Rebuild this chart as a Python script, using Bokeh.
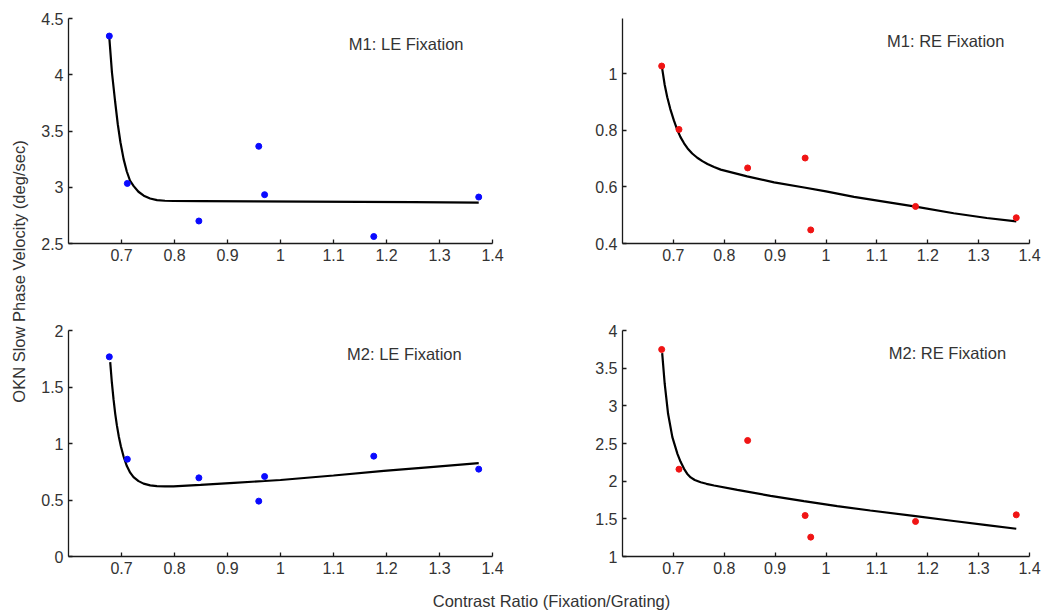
import math
from bokeh.plotting import figure
from bokeh.layouts import row, column
from bokeh.models import Range1d, FixedTicker, CustomJSTickFormatter
from bokeh.core.properties import value
from bokeh.embed import file_html
from bokeh.resources import INLINE

# ---------------- data ----------------
contrast_ratio = [0.677, 0.711, 0.846, 0.959, 0.970, 1.176, 1.374]

m1_le = [4.344, 3.034, 2.700, 3.364, 2.934, 2.562, 2.913]
m1_re = [1.027, 0.803, 0.667, 0.702, 0.448, 0.531, 0.491]
m2_le = [1.767, 0.861, 0.696, 0.490, 0.708, 0.888, 0.773]
m2_re = [3.748, 2.159, 2.540, 1.544, 1.257, 1.465, 1.553]

m1_le_fit_x = [0.677, 0.682, 0.688, 0.693, 0.698, 0.704, 0.710, 0.716, 0.723, 0.732, 0.742,
               0.754, 0.767, 0.782, 0.798, 0.850, 0.950, 1.050, 1.150, 1.250, 1.374]
m1_le_fit_y = [4.33, 4.02, 3.76, 3.56, 3.40, 3.25, 3.14, 3.06, 3.01, 2.96, 2.925,
               2.900, 2.886, 2.880, 2.878, 2.877, 2.875, 2.873, 2.870, 2.867, 2.863]

m1_re_fit_x = [0.678, 0.683, 0.688, 0.694, 0.701, 0.708, 0.714, 0.721, 0.728, 0.737, 0.747, 0.757,
               0.767, 0.780, 0.793, 0.845, 0.898, 0.957, 1.000, 1.055, 1.120, 1.176, 1.251, 1.316,
               1.374]
m1_re_fit_y = [1.018, 0.960, 0.917, 0.875, 0.835, 0.800, 0.776, 0.754, 0.736, 0.718, 0.703, 0.691,
               0.681, 0.670, 0.661, 0.637, 0.616, 0.598, 0.584, 0.565, 0.546, 0.530, 0.507, 0.490,
               0.478]

m2_le_fit_x = [0.6787, 0.6818, 0.6850, 0.6881, 0.6913, 0.6950, 0.6988, 0.7039, 0.7101, 0.7164,
               0.7227, 0.7322, 0.7416, 0.7542, 0.7668, 0.782, 0.798, 0.849, 0.912, 0.970, 1.000,
               1.100, 1.195, 1.289, 1.374]
m2_le_fit_y = [1.72, 1.54, 1.39, 1.265, 1.16, 1.06, 0.975, 0.885, 0.800, 0.742,
               0.703, 0.667, 0.645, 0.630, 0.623, 0.620, 0.621, 0.634, 0.652, 0.668, 0.677,
               0.717, 0.757, 0.793, 0.826]

m2_re_fit_x = [0.678, 0.683, 0.6896, 0.698, 0.708, 0.714, 0.721, 0.727, 0.734, 0.742, 0.7537,
               0.765, 0.780, 0.8257, 0.891, 0.9565, 1.022, 1.087, 1.176, 1.251, 1.316, 1.374]
m2_re_fit_y = [3.70, 3.29, 2.894, 2.584, 2.363, 2.26, 2.164, 2.10, 2.05, 2.015, 1.985,
               1.965, 1.943, 1.885, 1.805, 1.735, 1.668, 1.611, 1.535, 1.471, 1.416, 1.368]

x_ticks = [0.7, 0.8, 0.9, 1.0, 1.1, 1.2, 1.3, 1.4]
m1_le_yticks = [2.5, 3.0, 3.5, 4.0, 4.5]
m1_re_yticks = [0.4, 0.6, 0.8, 1.0]
m2_le_yticks = [0.0, 0.5, 1.0, 1.5, 2.0]
m2_re_yticks = [1.0, 1.5, 2.0, 2.5, 3.0, 3.5, 4.0]

panel_titles = ["M1: LE Fixation", "M1: RE Fixation", "M2: LE Fixation", "M2: RE Fixation"]
y_title = "OKN Slow Phase Velocity (deg/sec)"
x_title = "Contrast Ratio (Fixation/Grating)"

FONT = "Liberation Sans"
TXT = "#333333"
AX = "#1a1a1a"

fmt_code = "return String(Math.round(tick*100)/100);"


def panel(width, height, bl, br, bt, bb, yr, yticks, ys, fx, fy, color, title, tx, ty):
    p = figure(width=width, height=height, x_range=Range1d(0.6, 1.4), y_range=Range1d(*yr),
               output_backend="svg", toolbar_location=None,
               min_border_left=bl, min_border_right=br, min_border_top=bt, min_border_bottom=bb)
    p.outline_line_color = None
    p.grid.visible = False
    p.background_fill_color = "white"
    p.border_fill_color = "white"
    p.xaxis.ticker = FixedTicker(ticks=x_ticks)
    p.yaxis.ticker = FixedTicker(ticks=yticks)
    for ax in (p.xaxis[0], p.yaxis[0]):
        ax.formatter = CustomJSTickFormatter(code=fmt_code)
        ax.axis_line_color = AX
        ax.axis_line_width = 1.3
        ax.major_tick_line_color = AX
        ax.major_tick_line_width = 1.3
        ax.major_tick_in = 4
        ax.major_tick_out = 0
        ax.minor_tick_line_color = None
        ax.major_label_text_font = FONT
        ax.major_label_text_font_size = "16px"
        ax.major_label_text_color = TXT
        ax.major_label_standoff = 5
    p.line(fx, fy, line_color="black", line_width=2.2)
    p.scatter(contrast_ratio, ys, size=6, fill_color=color, line_color=color)
    p.text(x=[tx], y=[ty], text=[title], text_align="left", text_baseline="middle",
           text_font=value(FONT), text_font_size=value("16.5px"), text_color=TXT)
    return p


p1 = panel(530, 300, 38, 68, 17, 57, (2.5, 4.5), m1_le_yticks, m1_le, m1_le_fit_x, m1_le_fit_y,
           "#0a0aff", panel_titles[0], 1.129, 4.27)
p2 = panel(495, 300, 62, 26, 18, 57, (0.4, 1.195), m1_re_yticks, m1_re, m1_re_fit_x, m1_re_fit_y,
           "#f01414", panel_titles[1], 1.120, 1.114)
p3 = panel(530, 282, 38, 68, 30, 26, (0.0, 2.0), m2_le_yticks, m2_le, m2_le_fit_x, m2_le_fit_y,
           "#0a0aff", panel_titles[2], 1.1256, 1.788)
p4 = panel(495, 282, 62, 26, 30, 26, (1.0, 4.0), m2_re_yticks, m2_re, m2_re_fit_x, m2_re_fit_y,
           "#f01414", panel_titles[3], 1.1233, 3.704)


def blank(width, height):
    f = figure(width=width, height=height, x_range=Range1d(0, width), y_range=Range1d(0, height),
               output_backend="svg", toolbar_location=None, min_border=0)
    f.axis.visible = False
    f.grid.visible = False
    f.outline_line_color = None
    f.border_fill_color = "white"
    f.background_fill_color = "white"
    return f


YW, TOTAL_H = 30, 610
yfig = blank(YW, TOTAL_H)
yfig.text(x=[18], y=[TOTAL_H - 271], text=[y_title], angle=math.pi / 2,
          text_align="center", text_baseline="middle",
          text_font=value(FONT), text_font_size=value("16.5px"), text_color=TXT)

XH = 28
xfig = blank(1025, XH)
xfig.text(x=[551 - YW], y=[XH - 18], text=[x_title], text_align="center", text_baseline="middle",
          text_font=value(FONT), text_font_size=value("16.5px"), text_color=TXT)

layout = row(yfig, column(row(p1, p2), row(p3, p4), xfig))

open("out.html", "w").write(file_html(layout, INLINE))
